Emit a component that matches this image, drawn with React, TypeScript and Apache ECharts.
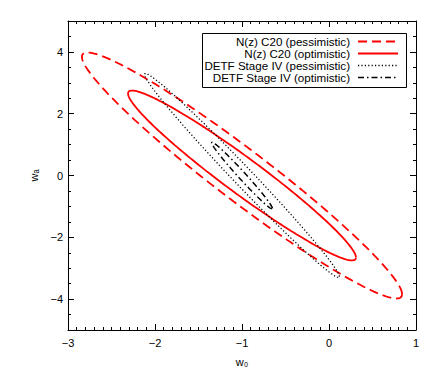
import { useEffect, useRef } from 'react';
import * as echarts from 'echarts';

// ---- Data ----
const seriesNames = [
  'N(z) C20 (pessimistic)',
  'N(z) C20 (optimistic)',
  'DETF Stage IV (pessimistic)',
  'DETF Stage IV (optimistic)',
];
// Ellipse parameters: centre, half-extent along w0 / wa, correlation
const centerW0 = [-1, -1, -1, -1];
const centerWa = [0, 0, 0, 0];
const halfExtentW0 = [1.84, 1.31, 1.12, 0.35];
const halfExtentWa = [3.98, 2.75, 3.3, 1.08];
const correlation = [-0.965, -0.965, -0.991, -0.987];

const xMajorTicks = [-3, -2, -1, 0, 1];
const yMajorTicks = [-4, -2, 0, 2, 4];
const yMinorTicks = [-4.5, -3.5, -3, -2.5, -1.5, -1, -0.5, 0.5, 1, 1.5, 2.5, 3, 3.5, 4.5];

// ---- Styles ----
const FONT = '"Liberation Sans", Arial, Helvetica, sans-serif';
const RED = '#ff0000';
const lineStyles = [
  { color: RED, width: 1.8, type: [9, 5] as number[] },
  { color: RED, width: 1.8, type: 'solid' as any },
  { color: '#000', width: 1.3, type: [1.2, 2.2] as number[] },
  { color: '#000', width: 1.5, type: [6, 3, 1.5, 3] as number[] },
];

function ellipsePoints(i: number): number[][] {
  const pts: number[][] = [];
  const s = Math.sqrt(1 - correlation[i] * correlation[i]);
  const n = 240;
  for (let k = 0; k <= n; k++) {
    const t = (2 * Math.PI * k) / n;
    const x = centerW0[i] + halfExtentW0[i] * Math.cos(t);
    const y = centerWa[i] + halfExtentWa[i] * (correlation[i] * Math.cos(t) + s * Math.sin(t));
    pts.push([x, y]);
  }
  return pts;
}

const fmt = (v: number) => (v < 0 ? '\u2212' + Math.abs(v) : String(v));

export default function App() {
  const ref = useRef<HTMLDivElement>(null);
  useEffect(() => {
    if (!ref.current) return;
    const chart = echarts.init(ref.current, undefined, { renderer: 'svg' });

    const axisLine = { show: true, onZero: false, lineStyle: { color: '#000', width: 1 } };
    const labelStyle = { color: '#000', fontSize: 11, fontFamily: FONT };

    const xBase = (pos: 'bottom' | 'top') => ({
      type: 'value',
      min: -3,
      max: 1,
      interval: 1,
      position: pos,
      axisLine,
      axisTick: { show: true, inside: true, length: 6, lineStyle: { color: '#000' } },
      minorTick: { show: true, splitNumber: 10, length: 3, lineStyle: { color: '#000' } },
      splitLine: { show: false },
      minorSplitLine: { show: false },
    });

    const yMajor = (pos: 'left' | 'right', labels: boolean) => ({
      type: 'value',
      min: -5,
      max: 5,
      position: pos,
      axisLine,
      axisTick: { show: true, inside: true, length: 6, customValues: yMajorTicks, lineStyle: { color: '#000' } },
      axisLabel: labels
        ? { show: true, customValues: yMajorTicks, formatter: fmt, margin: 5, ...labelStyle }
        : { show: false },
      splitLine: { show: false },
    });
    const yMinor = (pos: 'left' | 'right') => ({
      type: 'value',
      min: -5,
      max: 5,
      position: pos,
      axisLine: { show: false, onZero: false },
      axisTick: { show: true, inside: true, length: 3, customValues: yMinorTicks, lineStyle: { color: '#000' } },
      axisLabel: { show: false },
      splitLine: { show: false },
    });

    const legendRowsY = [41.5, 53.5, 65.5, 77.5];
    const legendGraphics: any[] = [
      {
        type: 'rect',
        z: 100,
        shape: { x: 202.5, y: 33.5, width: 204, height: 54 },
        style: { fill: '#fff', stroke: '#000', lineWidth: 1 },
      },
    ];
    seriesNames.forEach((name, i) => {
      legendGraphics.push({
        type: 'text',
        z: 101,
        x: 350,
        y: legendRowsY[i],
        style: {
          text: name,
          align: 'right',
          verticalAlign: 'middle',
          fontSize: 11.6,
          fontFamily: FONT,
          fill: '#000',
        },
      });
      const ls = lineStyles[i];
      legendGraphics.push({
        type: 'line',
        z: 101,
        shape: { x1: 358, y1: legendRowsY[i], x2: 398, y2: legendRowsY[i] },
        style: {
          stroke: ls.color,
          lineWidth: ls.width,
          lineDash: Array.isArray(ls.type) ? ls.type : null,
        },
      });
    });

    chart.setOption({
      animation: false,
      backgroundColor: '#fff',
      grid: { left: 68, right: 20, top: 21, bottom: 44, containLabel: false, outerBoundsMode: 'none' },
      xAxis: [
        {
          ...xBase('bottom'),
          axisLabel: { show: true, formatter: fmt, margin: 7, ...labelStyle },
          name: 'w\u2080',
          nameLocation: 'middle',
          nameGap: 26,
          nameTextStyle: { ...labelStyle, fontSize: 11 },
        },
        { ...xBase('top'), axisLabel: { show: false } },
      ],
      yAxis: [
        {
          ...yMajor('left', true),
          name: 'w\u2090',
          nameLocation: 'middle',
          nameGap: 22,
          nameRotate: 90,
          nameTextStyle: { ...labelStyle, fontSize: 11 },
        },
        yMinor('left'),
        yMajor('right', false),
        yMinor('right'),
      ],
      graphic: legendGraphics,
      series: seriesNames.map((name, i) => ({
        name,
        type: 'line',
        xAxisIndex: 0,
        yAxisIndex: 0,
        data: ellipsePoints(i),
        showSymbol: false,
        symbol: 'none',
        smooth: false,
        silent: true,
        lineStyle: { color: lineStyles[i].color, width: lineStyles[i].width, type: lineStyles[i].type },
        z: 2 + i,
      })),
    });

    return () => chart.dispose();
  }, []);

  return (
    <div
      ref={ref}
      style={{ position: 'absolute', left: 0, top: 0, width: 436, height: 374, background: '#fff' }}
    />
  );
}
